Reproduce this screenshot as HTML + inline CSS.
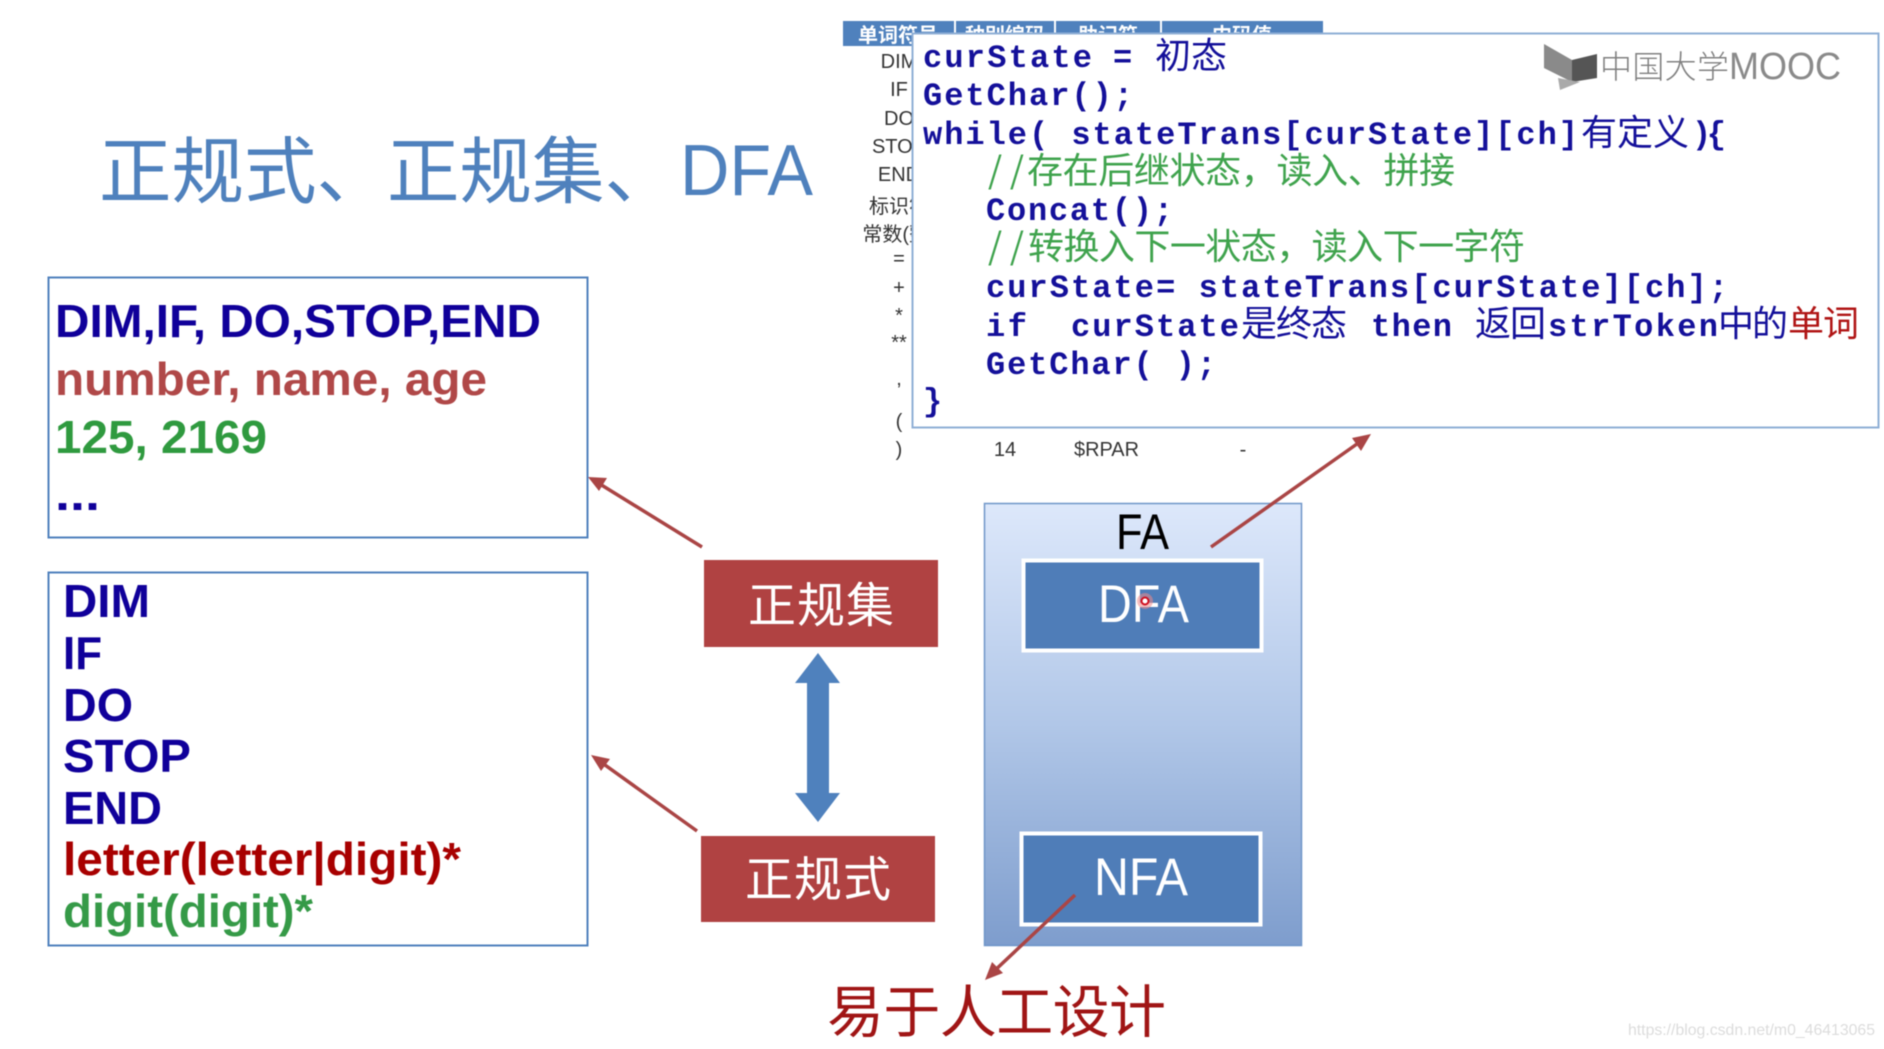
<!DOCTYPE html>
<html lang="zh">
<head>
<meta charset="utf-8">
<title>正规式、正规集、DFA</title>
<style>
html,body{margin:0;padding:0;background:#fff;width:1884px;height:1049px;overflow:hidden}
svg{display:block;filter:blur(.6px)}
text{font-family:"Liberation Sans","Noto Sans CJK SC",sans-serif}
.cjk{font-family:"Noto Sans CJK SC","Liberation Sans",sans-serif}
.m{font-family:"Liberation Mono",monospace;font-weight:700;font-size:32px;fill:#14109a}
.c{font-family:"Noto Sans CJK SC",sans-serif;font-size:36px;fill:#14109a}
.g{font-family:"Noto Sans CJK SC",sans-serif;font-size:36px;fill:#3fa34d}
.b{font-weight:700;font-size:46px}
.t{font-size:20px;fill:#333}
.h{font-family:"Noto Sans CJK SC",sans-serif;font-weight:700;font-size:20px;fill:#fff}
</style>
</head>
<body>
<svg width="1884" height="1049" viewBox="0 0 1884 1049" xmlns="http://www.w3.org/2000/svg">
<defs>
<linearGradient id="fa" x1="0" y1="0" x2="0" y2="1">
<stop offset="0" stop-color="#dde8fb"/><stop offset=".5" stop-color="#b1c7e8"/><stop offset="1" stop-color="#7e9dcd"/>
</linearGradient>
</defs>

<!-- Title -->
<text class="cjk" x="99" y="197" font-size="73" fill="#4f81bd" textLength="290" lengthAdjust="spacingAndGlyphs">正规式、</text>
<text class="cjk" x="387" y="197" font-size="73" fill="#4f81bd" textLength="290" lengthAdjust="spacingAndGlyphs">正规集、</text>
<text x="680" y="195" font-size="72" fill="#4f81bd" textLength="133" lengthAdjust="spacingAndGlyphs">DFA</text>

<!-- Background table -->
<rect x="843" y="21" width="480" height="25" fill="#4f81bd"/>
<rect x="954" y="21" width="2" height="25" fill="#fff"/>
<rect x="1054" y="21" width="2" height="25" fill="#fff"/>
<rect x="1160" y="21" width="2" height="25" fill="#fff"/>
<text class="h" x="858" y="42">单词符号</text>
<text class="h" x="965" y="42">种别编码</text>
<text class="h" x="1078" y="42">助记符</text>
<text class="h" x="1212" y="42">内码值</text>
<g text-anchor="middle">
<text class="t" x="899" y="68">DIM</text>
<text class="t" x="899" y="96">IF</text>
<text class="t" x="899" y="125">DO</text>
<text class="t" x="899" y="153">STOP</text>
<text class="t" x="899" y="181">END</text>
<text class="t" x="899" y="213">标识符</text>
<text class="t" x="899" y="241">常数(整)</text>
<text class="t" x="899" y="265">=</text>
<text class="t" x="899" y="294">+</text>
<text class="t" x="899" y="322">*</text>
<text class="t" x="899" y="349">**</text>
<text class="t" x="899" y="385">,</text>
<text class="t" x="899" y="428">(</text>
<text class="t" x="899" y="456">)</text>
<text class="t" x="1005" y="456">14</text>
<text class="t" x="1243" y="456">-</text>
</g>
<text class="t" x="1074" y="456" textLength="65" lengthAdjust="spacingAndGlyphs">$RPAR</text>

<!-- Code box -->
<rect x="912.5" y="33.5" width="966" height="394" fill="#fff" stroke="#8fafd6" stroke-width="2"/>

<text class="m" x="923" y="67" textLength="169" lengthAdjust="spacing">curState</text>
<text class="m" x="1113" y="67">=</text>
<text class="c" x="1155" y="68" textLength="72">初态</text>
<text class="m" x="923" y="105" textLength="210" lengthAdjust="spacing">GetChar();</text>
<text class="m" x="923" y="144" textLength="655" lengthAdjust="spacing">while( stateTrans[curState][ch]</text>
<text class="c" x="1581" y="145" textLength="108">有定义</text>
<text class="m" x="1692" y="144" textLength="34" lengthAdjust="spacing">){</text>
<text class="g" x="988" y="183" textLength="36" lengthAdjust="spacing">//</text>
<text class="g" x="1027" y="183" textLength="428">存在后继状态，读入、拼接</text>
<text class="m" x="986" y="220" textLength="187" lengthAdjust="spacing">Concat();</text>
<text class="g" x="988" y="259" textLength="36" lengthAdjust="spacing">//</text>
<text class="g" x="1028" y="259" textLength="497">转换入下一状态，读入下一字符</text>
<text class="m" x="986" y="297" textLength="742" lengthAdjust="spacing">curState= stateTrans[curState][ch];</text>
<text class="m" x="986" y="336" textLength="41" lengthAdjust="spacing">if</text>
<text class="m" x="1071" y="336" textLength="168" lengthAdjust="spacing">curState</text>
<text class="c" x="1241" y="336" textLength="106">是终态</text>
<text class="m" x="1371" y="336" textLength="81" lengthAdjust="spacing">then</text>
<text class="c" x="1475" y="336" textLength="71">返回</text>
<text class="m" x="1548" y="336" textLength="170" lengthAdjust="spacing">strToken</text>
<text class="c" x="1718" y="336" textLength="70">中的</text>
<text class="c" x="1788" y="336" textLength="71" style="fill:#b01515">单词</text>
<text class="m" x="986" y="374" textLength="230" lengthAdjust="spacing">GetChar( );</text>
<text class="m" x="923" y="411">}</text>

<!-- MOOC logo -->
<polygon points="1544,44 1572,60 1572,82 1544,68" fill="#8a8a8a"/>
<polygon points="1572,60 1597,54 1597,78 1572,82" fill="#555"/>
<polygon points="1558,78 1580,82 1560,90" fill="#aaa"/>
<text class="cjk" x="1600" y="78" font-size="32" fill="#808080" font-weight="300" textLength="129">中国大学</text>
<text x="1729" y="79" font-size="38" fill="#8a8a8a" textLength="112" lengthAdjust="spacingAndGlyphs">MOOC</text>

<!-- Left box 1 -->
<rect x="48.5" y="277.5" width="539" height="260" fill="#fff" stroke="#4f81bd" stroke-width="2"/>
<text class="b" x="55" y="337" fill="#10009a" textLength="486" lengthAdjust="spacingAndGlyphs">DIM,IF, DO,STOP,END</text>
<text class="b" x="55" y="395" fill="#b04848" textLength="432" lengthAdjust="spacingAndGlyphs">number, name, age</text>
<text class="b" x="55" y="453" fill="#2f9a3f" textLength="212" lengthAdjust="spacingAndGlyphs">125, 2169</text>
<text class="b" x="55" y="510" fill="#10009a" textLength="45" lengthAdjust="spacingAndGlyphs">...</text>

<!-- Left box 2 -->
<rect x="48.5" y="572.5" width="539" height="373" fill="#fff" stroke="#4f81bd" stroke-width="2"/>
<text class="b" x="63" y="617" fill="#10009a" textLength="87" lengthAdjust="spacingAndGlyphs">DIM</text>
<text class="b" x="63" y="669" fill="#10009a" textLength="39" lengthAdjust="spacingAndGlyphs">IF</text>
<text class="b" x="63" y="721" fill="#10009a" textLength="70" lengthAdjust="spacingAndGlyphs">DO</text>
<text class="b" x="63" y="772" fill="#10009a" textLength="128" lengthAdjust="spacingAndGlyphs">STOP</text>
<text class="b" x="63" y="824" fill="#10009a" textLength="99" lengthAdjust="spacingAndGlyphs">END</text>
<text class="b" x="63" y="875" fill="#a80000" textLength="398" lengthAdjust="spacingAndGlyphs">letter(letter|digit)*</text>
<text class="b" x="63" y="927" fill="#359a47" textLength="250" lengthAdjust="spacingAndGlyphs">digit(digit)*</text>

<!-- Red boxes -->
<rect x="704" y="560" width="234" height="87" fill="#b04242"/>
<text class="cjk" x="748" y="622" font-size="48" fill="#fff" textLength="146">正规集</text>
<rect x="701" y="836" width="234" height="86" fill="#b04242"/>
<text class="cjk" x="745" y="896" font-size="48" fill="#fff" textLength="146">正规式</text>

<!-- Double arrow -->
<polygon points="818,653 840,683 829,683 829,793 840,793 818,822 795,793 807,793 807,683 795,683" fill="#4f81bd"/>

<!-- FA box -->
<rect x="984.5" y="503.5" width="317" height="442" fill="url(#fa)" stroke="#6f95c8" stroke-width="1.5"/>
<text x="1116" y="549" font-size="50" fill="#000" textLength="53" lengthAdjust="spacingAndGlyphs">FA</text>
<rect x="1023.5" y="560.5" width="238" height="90" fill="#4f7db8" stroke="#fff" stroke-width="4"/>
<text x="1098" y="622" font-size="53" fill="#fff" textLength="91" lengthAdjust="spacingAndGlyphs">DFA</text>
<rect x="1021.5" y="833.5" width="239" height="91" fill="#4f7db8" stroke="#fff" stroke-width="4"/>
<text x="1094" y="895" font-size="53" fill="#fff" textLength="94" lengthAdjust="spacingAndGlyphs">NFA</text>
<circle cx="1145" cy="601" r="8" fill="#e88" opacity=".55"/>
<circle cx="1145" cy="601" r="3.5" fill="#fff" stroke="#d01020" stroke-width="2"/>

<!-- Red arrows -->
<g stroke="#aa4545" stroke-width="3.5" fill="#aa4545">
<line x1="702" y1="547" x2="595" y2="481"/>
<polygon stroke="none" points="588,477 607,478 599,491"/>
<line x1="697" y1="831" x2="598" y2="760"/>
<polygon stroke="none" points="591,755 610,759 601,771"/>
<line x1="1211" y1="547" x2="1364" y2="439"/>
<polygon stroke="none" points="1371,434 1361,451 1352,438"/>
<line x1="1075" y1="895" x2="991" y2="974"/>
<polygon stroke="none" points="985,980 992,962 1003,973"/>
</g>

<!-- Bottom label -->
<text class="cjk" x="827" y="1032" font-size="57" fill="#a01515" textLength="339">易于人工设计</text>

<!-- Watermark -->
<text x="1628" y="1035" font-size="16" fill="#dcdcdc" textLength="247" lengthAdjust="spacingAndGlyphs">https://blog.csdn.net/m0_46413065</text>
</svg>
</body>
</html>
